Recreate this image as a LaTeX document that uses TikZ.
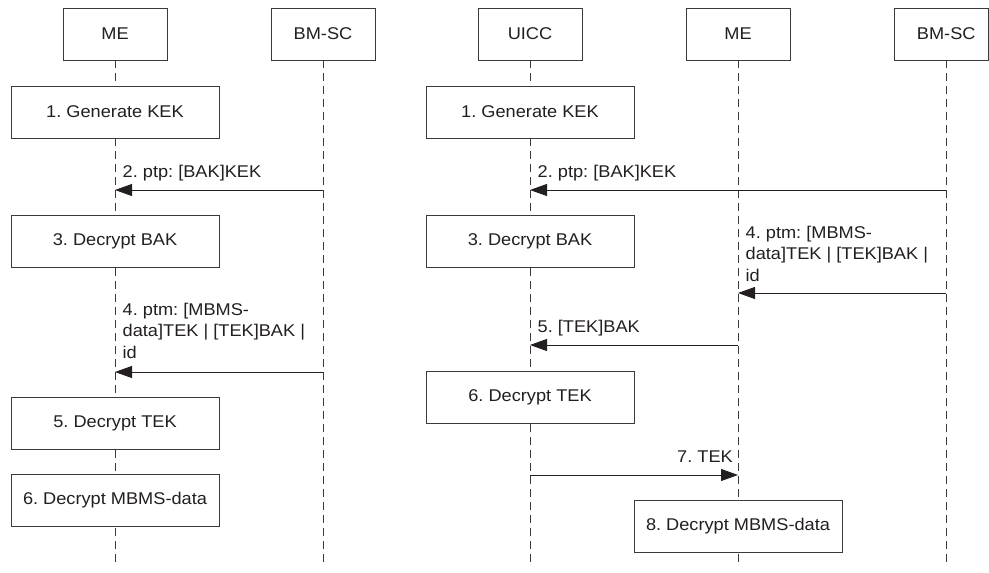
\documentclass[tikz,border=0pt]{standalone}
\usepackage{fontspec}
\setmainfont{Liberation Sans}[FakeStretch=1.07]
\usetikzlibrary{arrows.meta}
\pgfdeclarelayer{background}
\pgfsetlayers{background,main}
\definecolor{ink}{HTML}{231F20}
\definecolor{edge}{HTML}{3A3A3A}
\frenchspacing
\begin{document}
\begin{tikzpicture}[x=1pt,y=-1pt,
  every node/.style={font=\fontsize{17}{21.5}\selectfont\frenchspacing, text=ink},
  actor/.style={draw=edge, line width=0.9pt, fill=white, minimum width=104pt, minimum height=52pt, inner sep=0pt},
  act/.style={draw=edge, line width=0.9pt, fill=white, minimum width=208pt, minimum height=52pt, inner sep=0pt},
  life/.style={draw=edge, line width=0.9pt, dash pattern=on 8pt off 5pt},
  msg/.style={draw=ink, line width=0.9pt, -{Triangle[length=17pt,width=12pt]}},
  lbl/.style={anchor=base west, inner sep=0pt, align=left, xshift=7.5pt}]
\useasboundingbox (0,0) rectangle (989,573);

% ---------- left diagram ----------
\node[actor] (me1) at (115,34) {ME};
\node[actor] (bm1) at (323,34) {BM-SC};
\node[act] (g1) at (115,112) {1. Generate KEK};
\node[act] (d1) at (115,241.5) {3. Decrypt BAK};
\node[act] (t1) at (115,423) {5. Decrypt TEK};
\node[act] (m1) at (115,500.5) {6. Decrypt MBMS-data};

\coordinate (me1end) at (me1.south |- 0,566);
\coordinate (bm1end) at (bm1.south |- 0,566);

\draw[msg] (bm1.south |- 0,190) -- (me1.south |- 0,190);
\node[lbl] (l2a) at (me1.south |- 0,177) {2. ptp: [BAK]KEK};
\draw[msg] (bm1.south |- 0,372) -- (me1.south |- 0,372);
\node[lbl] (l4a) at (me1.south |- 0,358) {4. ptm: [MBMS-\\data]TEK | [TEK]BAK |\\id};

% ---------- right diagram ----------
\node[actor] (uicc) at (530,34) {UICC};
\node[actor] (me2) at (738,34) {ME};
\node[actor, minimum width=94.5pt] (bm2) at (941.25,34) {\hspace*{10pt}BM-SC};
\node[act] (g2) at (530,112) {1. Generate KEK};
\node[act] (d2) at (530,241.5) {3. Decrypt BAK};
\node[act] (t2) at (530,397) {6. Decrypt TEK};
\node[act] (m2) at (738,526.5) {8. Decrypt MBMS-data};

\coordinate (bm2bot) at (946,60);
\coordinate (uiccend) at (uicc.south |- 0,566);
\coordinate (me2end) at (me2.south |- 0,566);
\coordinate (bm2end) at (bm2bot |- 0,566);

\draw[msg] (bm2bot |- 0,190) -- (uicc.south |- 0,190);
\node[lbl] (l2b) at (uicc.south |- 0,177) {2. ptp: [BAK]KEK};
\draw[msg] (bm2bot |- 0,293) -- (me2.south |- 0,293);
\node[lbl] (l4b) at (me2.south |- 0,281) {4. ptm: [MBMS-\\data]TEK | [TEK]BAK |\\id};
\draw[msg] (me2.south |- 0,345) -- (uicc.south |- 0,345);
\node[lbl] (l5b) at (uicc.south |- 0,332) {5. [TEK]BAK};
\draw[msg] (uicc.south |- 0,475) -- (me2.south |- 0,475);
\node[anchor=base east, inner sep=0pt, xshift=-5pt] (l7b) at (me2.south |- 0,462) {7. TEK};

% ---------- lifelines (behind boxes) ----------
\begin{pgfonlayer}{background}
\draw[life] (me1.south) -- (me1end);
\draw[life] (bm1.south) -- (bm1end);
\draw[life] (uicc.south) -- (uiccend);
\draw[life] (me2.south) -- (me2end);
\draw[life] (bm2bot) -- (bm2end);
\end{pgfonlayer}
\end{tikzpicture}
\end{document}
